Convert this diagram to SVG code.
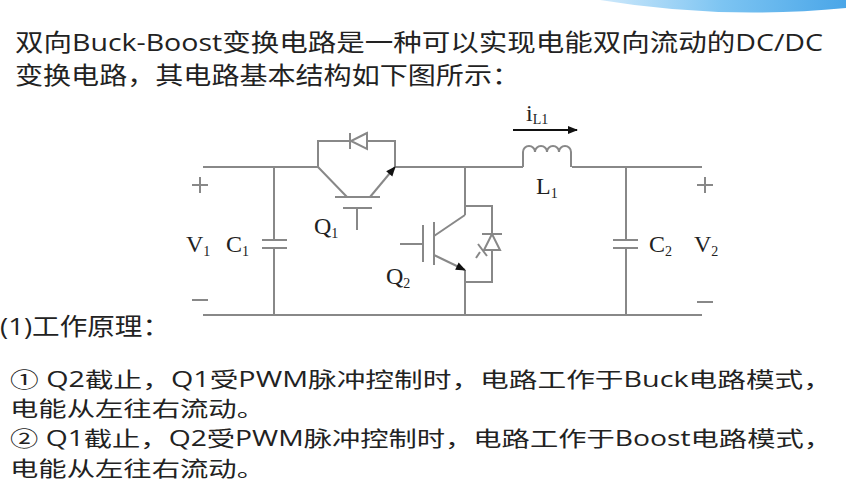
<svg xmlns="http://www.w3.org/2000/svg" width="846" height="485" viewBox="0 0 846 485">
<defs>
<linearGradient id="bn" x1="0" y1="0" x2="1" y2="0"><stop offset="0" stop-color="#cfe9fb"/><stop offset="0.5" stop-color="#7cc4f2"/><stop offset="1" stop-color="#4aa6e8"/></linearGradient>
<marker id="ah2" viewBox="0 0 10 10" refX="9" refY="5" markerWidth="12" markerHeight="10" orient="auto" markerUnits="userSpaceOnUse"><path d="M0,1 L10,5 L0,9 z" fill="#111"/></marker>
</defs>
<style>
.w{stroke:#888;stroke-width:2;fill:none}
.s{font-family:"Liberation Serif",serif;font-size:24px;fill:#222}
.sub{font-size:14px}
.t{font-family:"Open Sans","Noto Sans CJK SC",sans-serif;font-size:24px;fill:#222}
.b{font-family:"Open Sans","Noto Sans CJK SC",sans-serif;font-size:21px;fill:#222}
</style>
<rect width="846" height="485" fill="#fff"/>
<path d="M600,0 Q720,20 846,8 L846,0 z" fill="url(#bn)"/>
<text class="t" x="15" y="51" textLength="808" lengthAdjust="spacingAndGlyphs">双向Buck-Boost变换电路是一种可以实现电能双向流动的DC/DC</text>
<text class="t" x="15" y="84" textLength="505" lengthAdjust="spacingAndGlyphs">变换电路，其电路基本结构如下图所示：</text>
<g id="wires" class="w">
<path d="M203,167 H318 M395,167 H523 M572,167 H702"/>
<path d="M203,315 H702"/>
<path d="M274,167 V240 M274,248 V315"/>
<path d="M626,167 V240 M626,248 V315"/>
<path d="M465,167 V215 M465,270 V315"/>
</g>
<g id="C1" class="w"><path d="M262,240 H287 M262,248 H287"/></g>
<g id="C2" class="w"><path d="M613,240 H638 M613,248 H638"/></g>
<g id="Q1">
<path class="w" d="M318,167 V141 H395 V167"/>
<path class="w" d="M347,141 H368 M350,133 V149"/>
<path d="M367,133 L351,141 L367,149 z" fill="#fff" stroke="#888" stroke-width="2"/>
<path class="w" d="M318,167 L347,197 M335,197 H380 M343,208 H372 M357,208 V230"/>
<path class="w" d="M370,197 L395,167" marker-end="url(#ah2)" stroke="#333"/>
</g>
<g id="Q2">
<path class="w" d="M434,222 V265 M423,225 V262 M400,244 H423 M434,236 L465,215"/>
<path class="w" d="M434,255 L465,270" marker-end="url(#ah2)" stroke="#333"/>
<path class="w" d="M465,206 H492 V282 H465"/>
<path class="w" d="M482,234 H502"/>
<path d="M492,234 L484,250 H500 z" fill="#fff" stroke="#888" stroke-width="2"/>
<path class="w" d="M478,244 L487,256 M480,252 L476,258" stroke-width="1.5"/>
</g>
<g id="L1">
<path class="w" d="M523,167 V152 A6,6 0 0 1 535,152 A6,6 0 0 1 547,152 A6,6 0 0 1 559,152 A6,6 0 0 1 571,152 V167"/>
<path d="M513,130 H577" stroke="#111" stroke-width="2" marker-end="url(#ah2)"/>
</g>
<g id="labels">
<text class="s" x="526" y="121">i<tspan class="sub" dy="3">L1</tspan></text>
<text class="s" x="536" y="194">L<tspan class="sub" dy="4">1</tspan></text>
<text class="s" x="314" y="234">Q<tspan class="sub" dy="4">1</tspan></text>
<text class="s" x="386" y="284">Q<tspan class="sub" dy="4">2</tspan></text>
<text class="s" x="186" y="252">V<tspan class="sub" dy="4">1</tspan></text>
<text class="s" x="226" y="252">C<tspan class="sub" dy="4">1</tspan></text>
<text class="s" x="649" y="252">C<tspan class="sub" dy="4">2</tspan></text>
<text class="s" x="694" y="252">V<tspan class="sub" dy="4">2</tspan></text>
<path class="w" stroke-width="1.5" d="M192,185 H208 M200,177 V193 M192,300 H208 M697,185 H713 M705,177 V193 M697,302 H713"/>
</g>
<text class="t" x="0" y="335" textLength="170" lengthAdjust="spacingAndGlyphs">(1)工作原理：</text>
<text class="b" x="10" y="387" textLength="822" lengthAdjust="spacingAndGlyphs">① Q2截止，Q1受PWM脉冲控制时，电路工作于Buck电路模式，</text>
<text class="b" x="10" y="416" textLength="255" lengthAdjust="spacingAndGlyphs">电能从左往右流动。</text>
<text class="b" x="10" y="446" textLength="822" lengthAdjust="spacingAndGlyphs">② Q1截止，Q2受PWM脉冲控制时，电路工作于Boost电路模式，</text>
<text class="b" x="10" y="476" textLength="255" lengthAdjust="spacingAndGlyphs">电能从左往右流动。</text>
</svg>
